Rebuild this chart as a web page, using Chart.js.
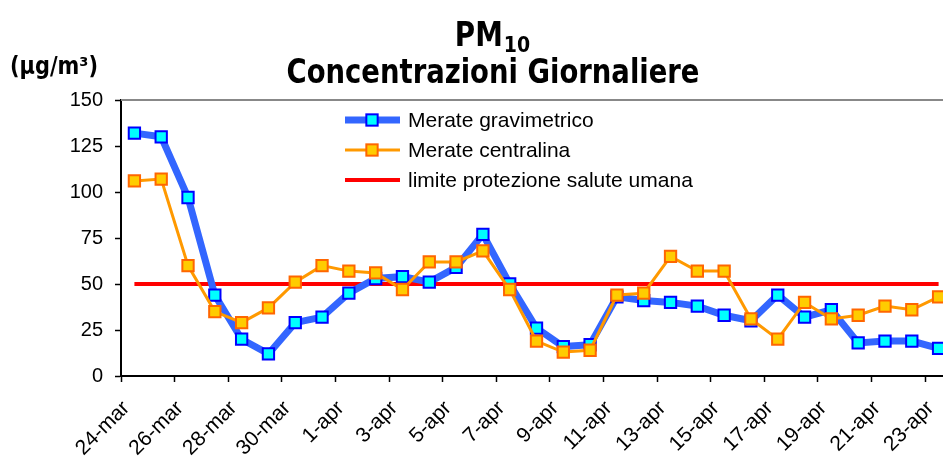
<!DOCTYPE html>
<html>
<head>
<meta charset="utf-8">
<script src="https://cdn.jsdelivr.net/npm/chart.js@4.4.1/dist/chart.umd.min.js"></script>
<style>
  html, body { margin: 0; padding: 0; background: #fff; overflow: hidden; }
  #wrap { width: 943px; height: 457px; overflow: hidden; }
</style>
</head>
<body>
<div id="wrap"><canvas id="pmChart" width="952" height="457"></canvas></div>
<script>
const days = [
  "24-mar","25-mar","26-mar","27-mar","28-mar","29-mar","30-mar","31-mar",
  "1-apr","2-apr","3-apr","4-apr","5-apr","6-apr","7-apr","8-apr","9-apr","10-apr",
  "11-apr","12-apr","13-apr","14-apr","15-apr","16-apr","17-apr","18-apr","19-apr",
  "20-apr","21-apr","22-apr","23-apr"
];
const gravimetrico = [132,130,97,44,20,12,29,32,45,53,54,51,59,77,50,26,16,17,43,41,40,38,33,30,44,32,36,18,19,19,15];
const centralina   = [106,107,60,35,29,37,51,60,57,56,47,62,62,68,47,19,13,14,44,45,65,57,57,31,20,40,31,33,38,36,43];
const limite       = [50,50,50,50,50,50,50,50,50,50,50,50,50,50,50,50,50,50,50,50,50,50,50,50,50,50,50,50,50,50,50];
const yTicks = [0,25,50,75,100,125,150];

const seriesNames = ["Merate gravimetrico", "Merate centralina", "limite protezione salute umana"];

const axisFont = { family: "'Liberation Sans', Arial, sans-serif", size: 20 };

// titolo, unità e riquadro superiore
const titlePlugin = {
  id: "titoli",
  afterDraw(chart) {
    const ctx = chart.ctx;
    const area = chart.chartArea;
    ctx.save();
    ctx.fillStyle = "#000";
    ctx.textBaseline = "alphabetic";

    // PM10
    ctx.font = "bold 33px 'DejaVu Sans Condensed', 'DejaVu Sans', sans-serif";
    const pmW = Math.min(ctx.measureText("PM").width, 48);
    ctx.font = "bold 21px 'DejaVu Sans Condensed', 'DejaVu Sans', sans-serif";
    const subW = ctx.measureText("10").width;
    const x0 = 492 - (pmW + subW) / 2;
    ctx.font = "bold 33px 'DejaVu Sans Condensed', 'DejaVu Sans', sans-serif";
    ctx.textAlign = "left";
    ctx.fillText("PM", x0, 46, 48);
    ctx.font = "bold 21px 'DejaVu Sans Condensed', 'DejaVu Sans', sans-serif";
    ctx.fillText("10", x0 + pmW + 1, 52);

    ctx.font = "bold 33px 'DejaVu Sans Condensed', 'DejaVu Sans', sans-serif";
    ctx.textAlign = "center";
    ctx.fillText("Concentrazioni Giornaliere", 493, 83, 413);

    ctx.font = "bold 24px 'DejaVu Sans Condensed', 'DejaVu Sans', sans-serif";
    ctx.textAlign = "left";
    ctx.fillText("(µg/m³)", 10, 74, 88);

    // bordo superiore grigio
    ctx.strokeStyle = "#888";
    ctx.lineWidth = 2;
    ctx.beginPath();
    ctx.moveTo(area.left, area.top);
    ctx.lineTo(area.right, area.top);
    ctx.stroke();
    ctx.restore();
  }
};

// legenda dentro l'area del grafico
const legendPlugin = {
  id: "legendaInterna",
  afterDatasetsDraw(chart) {
    const ctx = chart.ctx;
    const rows = [120, 150, 180];
    ctx.save();
    chart.data.datasets.forEach((ds, i) => {
      const y = rows[i];
      ctx.strokeStyle = ds.borderColor;
      ctx.lineWidth = ds.borderWidth;
      ctx.beginPath();
      ctx.moveTo(345, y);
      ctx.lineTo(400, y);
      ctx.stroke();
      if (ds.pointRadius > 0) {
        ctx.fillStyle = ds.pointBackgroundColor;
        ctx.strokeStyle = ds.pointBorderColor;
        ctx.lineWidth = ds.pointBorderWidth;
        const s = ds.pointRadius * Math.SQRT1_2;
        ctx.fillRect(372 - s, y - s, 2 * s, 2 * s);
        ctx.strokeRect(372 - s, y - s, 2 * s, 2 * s);
      }
      ctx.fillStyle = "#000";
      ctx.font = "21px 'Liberation Sans', Arial, sans-serif";
      ctx.textAlign = "left";
      ctx.textBaseline = "middle";
      ctx.fillText(ds.label, 408, y + 1);
    });
    ctx.restore();
  }
};

new Chart(document.getElementById("pmChart"), {
  type: "line",
  data: {
    labels: days,
    datasets: [
      {
        label: seriesNames[0],
        data: gravimetrico,
        order: 1,
        borderColor: "#3366FF",
        borderWidth: 7,
        pointStyle: "rect",
        pointRadius: 8,
        pointBackgroundColor: "#00FFFF",
        pointBorderColor: "#0000FF",
        pointBorderWidth: 2,
        tension: 0
      },
      {
        label: seriesNames[1],
        data: centralina,
        order: 0,
        borderColor: "#FF9900",
        borderWidth: 3,
        pointStyle: "rect",
        pointRadius: 8,
        pointBackgroundColor: "#FFCC00",
        pointBorderColor: "#FF6600",
        pointBorderWidth: 2,
        tension: 0
      },
      {
        label: seriesNames[2],
        data: limite,
        order: 2,
        borderColor: "#FF0000",
        borderWidth: 4,
        pointRadius: 0,
        tension: 0
      }
    ]
  },
  options: {
    responsive: false,
    animation: false,
    // il canvas è un po' più largo della finestra: l'asse x esce dal bordo destro come nell'originale
    layout: { autoPadding: false, padding: { top: 100, right: 0, left: 0, bottom: 0 } },
    plugins: {
      legend: { display: false },
      tooltip: { enabled: false },
      title: { display: false }
    },
    scales: {
      x: {
        offset: true,
        border: { color: "#000", width: 2 },
        grid: {
          offset: true,
          drawOnChartArea: false,
          tickLength: 6,
          tickWidth: 1.5,
          tickColor: c => (c.index % 2 === 0 ? "#000" : "rgba(0,0,0,0)")
        },
        ticks: {
          autoSkip: false,
          minRotation: 45,
          maxRotation: 45,
          color: "#000",
          font: { family: "'Liberation Sans', Arial, sans-serif", size: 21 },
          padding: 14,
          labelOffset: -8,
          callback: (v, i) => (i % 2 === 0 ? days[i] : "")
        },
        afterFit: s => {
          s.height = 81;
          s.paddingLeft = 0;
          s.paddingRight = 0;
        }
      },
      y: {
        min: 0,
        max: 150,
        afterBuildTicks: s => { s.ticks = yTicks.map(v => ({ value: v })); },
        border: { color: "#000", width: 2 },
        grid: { drawOnChartArea: false, tickLength: 6, tickWidth: 1.5, tickColor: "#000" },
        ticks: { color: "#000", font: axisFont, padding: 12 },
        afterFit: s => { s.width = 121; }
      }
    }
  },
  plugins: [titlePlugin, legendPlugin]
});
</script>
</body>
</html>
